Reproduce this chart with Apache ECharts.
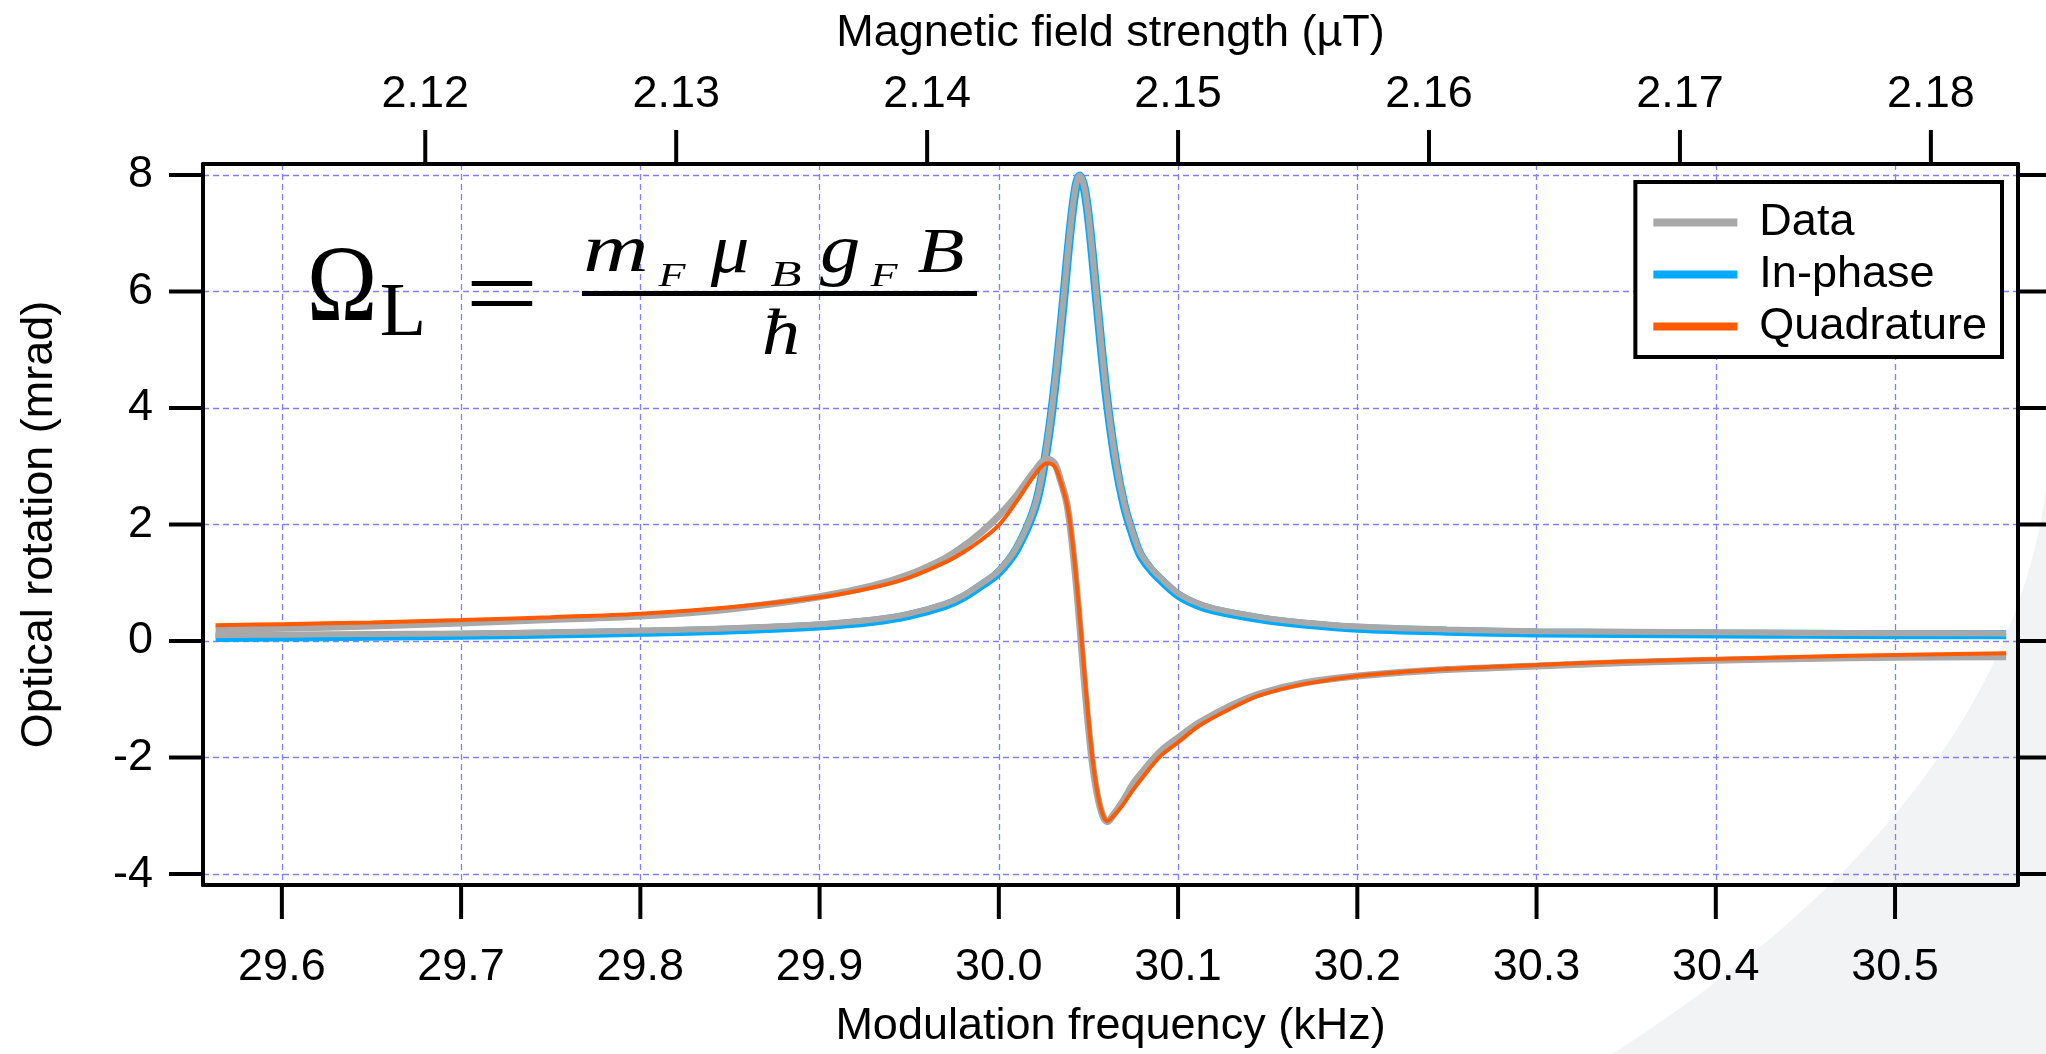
<!DOCTYPE html>
<html>
<head>
<meta charset="utf-8">
<script src="https://cdn.jsdelivr.net/npm/echarts@6/dist/echarts.min.js"></script>
<style>
html,body{margin:0;padding:0;background:#fff;}
#chart{width:2046px;height:1054px;}
</style>
</head>
<body>
<div id="chart"></div>
<script>
// ---- data ----
var freqTicks = [29.6, 29.7, 29.8, 29.9, 30.0, 30.1, 30.2, 30.3, 30.4, 30.5];
var fieldTicks = [2.12, 2.13, 2.14, 2.15, 2.16, 2.17, 2.18];
var rotTicks = [-4, -2, 0, 2, 4, 6, 8];

var freqInphase = [29.563, 29.6, 29.65, 29.7, 29.75, 29.8, 29.85, 29.9, 29.93, 29.95, 29.97, 29.98, 29.99, 30.0, 30.01, 30.02, 30.025, 30.03, 30.035, 30.04, 30.043, 30.0452, 30.048, 30.051, 30.055, 30.06, 30.065, 30.07, 30.075, 30.079, 30.085, 30.09, 30.1, 30.11, 30.12, 30.146, 30.17, 30.2, 30.25, 30.3, 30.35, 30.4, 30.45, 30.5, 30.562];
var inphaseFit = [0.06, 0.07, 0.08, 0.1, 0.12, 0.15, 0.19, 0.26, 0.34, 0.44, 0.61, 0.75, 0.95, 1.18, 1.58, 2.28, 2.98, 4.05, 5.5, 7.1, 7.8, 7.98, 7.72, 7.0, 5.72, 4.22, 3.1, 2.32, 1.8, 1.48, 1.22, 1.06, 0.79, 0.63, 0.53, 0.38, 0.29, 0.22, 0.17, 0.14, 0.13, 0.12, 0.115, 0.11, 0.11];
var inphaseData = [0.1, 0.11, 0.12, 0.13, 0.15, 0.18, 0.22, 0.29, 0.37, 0.47, 0.64, 0.78, 0.98, 1.21, 1.61, 2.31, 3.01, 4.08, 5.53, 7.12, 7.82, 7.99, 7.74, 7.02, 5.75, 4.25, 3.13, 2.35, 1.83, 1.51, 1.25, 1.09, 0.82, 0.66, 0.56, 0.41, 0.32, 0.25, 0.2, 0.17, 0.16, 0.15, 0.14, 0.135, 0.13];

var freqQuad = [29.563, 29.6, 29.65, 29.7, 29.75, 29.8, 29.85, 29.9, 29.93, 29.95, 29.97, 29.98, 29.99, 30.0, 30.01, 30.02, 30.027, 30.031, 30.034, 30.038, 30.041, 30.044, 30.0465, 30.049, 30.052, 30.055, 30.058, 30.0605, 30.064, 30.069, 30.075, 30.08, 30.09, 30.1, 30.112, 30.13, 30.146, 30.17, 30.2, 30.25, 30.3, 30.35, 30.4, 30.45, 30.5, 30.562];
var quadFit = [0.27, 0.29, 0.32, 0.36, 0.41, 0.47, 0.58, 0.75, 0.92, 1.09, 1.35, 1.52, 1.73, 1.99, 2.4, 2.85, 3.05, 3.0, 2.78, 2.35, 1.72, 0.8, -0.1, -1.0, -1.95, -2.6, -2.98, -3.09, -3.0, -2.82, -2.55, -2.35, -1.98, -1.74, -1.45, -1.15, -0.93, -0.74, -0.6, -0.48, -0.41, -0.35, -0.31, -0.27, -0.24, -0.21];
var quadData = [0.2, 0.22, 0.26, 0.31, 0.37, 0.43, 0.55, 0.76, 0.95, 1.14, 1.42, 1.62, 1.86, 2.15, 2.5, 2.92, 3.12, 3.05, 2.8, 2.35, 1.65, 0.7, -0.25, -1.15, -2.05, -2.65, -3.0, -3.1, -2.98, -2.76, -2.45, -2.25, -1.9, -1.66, -1.4, -1.1, -0.9, -0.72, -0.6, -0.49, -0.43, -0.37, -0.33, -0.3, -0.28, -0.27];

var kHzPerMicroTesla = 14.0;
var freqMin = 29.556, freqMax = 30.5686;
var rotMin = -4.187, rotMax = 8.187;

function pairs(xs, ys) { return xs.map(function (x, i) { return [x, ys[i]]; }); }

var FONT = 'Liberation Sans, Arial, Helvetica, sans-serif';
var SERIF = 'Liberation Serif, Times New Roman, serif';
var GRIDC = '#8080ff';
var TICK_LEN = 34;

// decorative background sweep (layout only)
function bgShape() {
  var p0 = [2046, 490], p1 = [2018, 690], p2 = [1885, 880], p3 = [1612, 1054];
  var pts = [];
  for (var i = 0; i <= 40; i++) {
    var t = i / 40, u = 1 - t;
    pts.push([
      u*u*u*p0[0] + 3*u*u*t*p1[0] + 3*u*t*t*p2[0] + t*t*t*p3[0],
      u*u*u*p0[1] + 3*u*u*t*p1[1] + 3*u*t*t*p2[1] + t*t*t*p3[1]
    ]);
  }
  pts.push([2046, 1054]);
  return pts;
}

var chart = echarts.init(document.getElementById('chart'), null, {renderer: 'canvas'});

var lineAxis = {show: true, onZero: false, lineStyle: {color: '#000', width: 4}};
var tickStyle = {stroke: '#000', lineWidth: 4};

// formula glyph helper (layout only)
function tx(t, x, y, size, italic, sx) {
  return {type: 'text', z: 50, x: x, y: y, scaleX: sx || 1, silent: true,
    style: {text: t, x: 0, y: 0, font: (italic ? 'italic ' : '') + size + 'px ' + SERIF, fill: '#000', textAlign: 'center', textVerticalAlign: 'middle'}};
}

// outward frame ticks drawn through the axes' own scales
function xTickSeries(axisIdx, values, yEdge, dir) {
  return {
    type: 'custom', xAxisIndex: axisIdx, yAxisIndex: 0, clip: false, silent: true, z: 10,
    data: values.map(function (v) { return [v, yEdge]; }),
    renderItem: function (params, api) {
      var p = api.coord([api.value(0), api.value(1)]);
      return {type: 'line', shape: {x1: p[0], y1: p[1], x2: p[0], y2: p[1] + dir * TICK_LEN}, style: tickStyle};
    }
  };
}
function yTickSeries(xEdge, dir) {
  return {
    type: 'custom', xAxisIndex: 0, yAxisIndex: 0, clip: false, silent: true, z: 10,
    data: rotTicks.map(function (v) { return [xEdge, v]; }),
    renderItem: function (params, api) {
      var p = api.coord([api.value(0), api.value(1)]);
      return {type: 'line', shape: {x1: p[0], y1: p[1], x2: p[0] + dir * TICK_LEN, y2: p[1]}, style: tickStyle};
    }
  };
}

var option = {
  animation: false,
  backgroundColor: 'transparent',
  grid: {left: 203, right: 28, top: 164, bottom: 163, containLabel: false},
  legend: {
    orient: 'vertical', right: 44, top: 182,
    data: ['Data', 'In-phase', 'Quadrature'],
    icon: 'rect', itemWidth: 84, itemHeight: 8, itemGap: 7,
    borderColor: '#000', borderWidth: 4, backgroundColor: '#fff',
    padding: [18, 15, 8, 18],
    textStyle: {fontFamily: FONT, fontSize: 45, color: '#000', padding: [0, 0, 0, 17]},
    z: 20
  },
  xAxis: [{
    type: 'value', position: 'bottom', min: freqMin, max: freqMax,
    name: 'Modulation frequency (kHz)', nameLocation: 'middle', nameGap: 119,
    nameTextStyle: {fontFamily: FONT, fontSize: 45, color: '#000'},
    axisLine: lineAxis,
    axisTick: {show: false, customValues: freqTicks},
    axisLabel: {show: true, margin: 60, fontFamily: FONT, fontSize: 45, color: '#000', customValues: freqTicks, formatter: function (v) { return v.toFixed(1); }},
    splitLine: {show: true, lineStyle: {color: GRIDC, width: 1.3, type: [6, 4]}}
  }, {
    type: 'value', position: 'top', min: freqMin / kHzPerMicroTesla, max: freqMax / kHzPerMicroTesla,
    name: 'Magnetic field strength (µT)', nameLocation: 'middle', nameGap: 108,
    nameTextStyle: {fontFamily: FONT, fontSize: 45, color: '#000'},
    axisLine: lineAxis,
    axisTick: {show: false, customValues: fieldTicks},
    axisLabel: {show: true, margin: 47, fontFamily: FONT, fontSize: 45, color: '#000', customValues: fieldTicks, formatter: function (v) { return v.toFixed(2); }},
    splitLine: {show: false}
  }],
  yAxis: [{
    type: 'value', position: 'left', min: rotMin, max: rotMax,
    name: 'Optical rotation (mrad)', nameLocation: 'middle', nameGap: 141,
    nameTextStyle: {fontFamily: FONT, fontSize: 45, color: '#000'},
    axisLine: lineAxis,
    axisTick: {show: false, customValues: rotTicks},
    axisLabel: {show: true, margin: 50, fontFamily: FONT, fontSize: 45, color: '#000', customValues: rotTicks, formatter: function (v) { return String(v); }},
    splitLine: {show: true, lineStyle: {color: GRIDC, width: 1.3, type: [6, 4]}}
  }, {
    type: 'value', position: 'right', min: rotMin, max: rotMax,
    axisLine: lineAxis,
    axisTick: {show: false},
    axisLabel: {show: false},
    splitLine: {show: false}
  }],
  series: [
    {name: 'In-phase', type: 'line', data: pairs(freqInphase, inphaseFit), color: '#00aaff', showSymbol: false, smooth: 0.35, lineStyle: {width: 9, color: '#00aaff'}, z: 2},
    {name: 'Data', type: 'line', data: pairs(freqInphase, inphaseData), color: '#a8a8a8', showSymbol: false, smooth: 0.35, lineStyle: {width: 6, color: '#a8a8a8'}, z: 3},
    {name: 'Data', type: 'line', data: pairs(freqQuad, quadData), color: '#a8a8a8', showSymbol: false, smooth: 0.35, lineStyle: {width: 7, color: '#a8a8a8'}, z: 4},
    {name: 'Quadrature', type: 'line', data: pairs(freqQuad, quadFit), color: '#ff5a00', showSymbol: false, smooth: 0.35, lineStyle: {width: 4, color: '#ff5a00'}, z: 5},
    xTickSeries(0, freqTicks, rotMin, 1),
    xTickSeries(1, fieldTicks, rotMax, -1),
    yTickSeries(freqMin, -1),
    yTickSeries(freqMax, 1)
  ],
  graphic: [
    {type: 'polygon', z: -10, silent: true, shape: {points: bgShape()}, style: {fill: '#f2f3f5'}},
    tx('\u03A9', 342, 292, 108, false, 0.88),
    tx('L', 403, 315, 76, false),
    tx('=', 502, 301, 100, false, 1.3),
    {type: 'rect', z: 50, silent: true, shape: {x: 582, y: 291, width: 395, height: 5}, style: {fill: '#000'}},
    tx('m', 616, 253, 68, true, 1.33),
    tx('F', 672, 277, 34, true, 1.3),
    tx('\u03BC', 730, 254, 70, true, 1.1),
    tx('B', 786, 277, 35, true, 1.45),
    tx('g', 840, 254, 70, true, 1.15),
    tx('F', 884, 277, 34, true, 1.3),
    tx('B', 941, 255, 64, true, 1.2),
    tx('\u0127', 781, 337, 66, true, 1.15)
  ]
};
chart.setOption(option);
</script>
</body>
</html>
